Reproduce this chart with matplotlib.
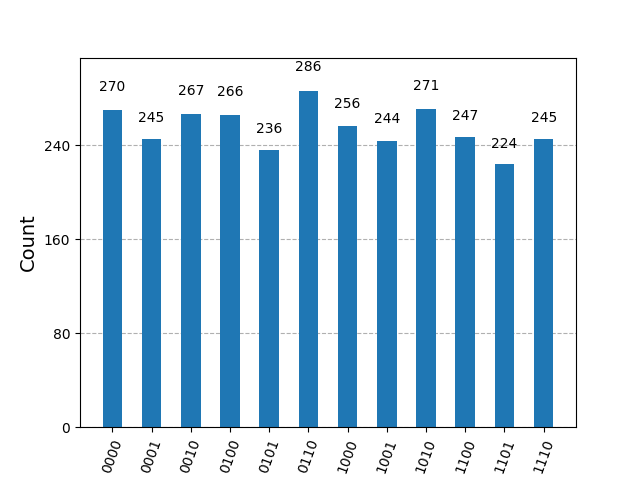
import matplotlib
matplotlib.use('Agg')
import matplotlib.pyplot as plt
from matplotlib.ticker import MaxNLocator

# 측정 결과 (counts)
states = ['0000', '0001', '0010', '0100', '0101', '0110',
          '1000', '1001', '1010', '1100', '1101', '1110']
counts = [270, 245, 267, 266, 236, 286, 256, 244, 271, 247, 224, 245]

fig, ax = plt.subplots(figsize=(6.4, 4.8), dpi=100)
x = range(len(states))
rects = ax.bar(x, counts, width=0.5, color='#1f77b4', zorder=2)

# 막대 위 값 표시
for rect, c in zip(rects, counts):
    h = rect.get_height()
    ax.text(rect.get_x() + rect.get_width() / 2., 1.05 * h, str(c),
            ha='center', va='bottom', zorder=3)

ax.set_xticks(list(x))
ax.set_xticklabels(states, rotation=70, fontsize=10)
ax.yaxis.set_major_locator(MaxNLocator(5, integer=True))
ax.set_ylim(0, max(counts) * 1.1)
ax.grid(which='major', axis='y', zorder=0, linestyle='--')
ax.set_axisbelow(True)
ax.set_ylabel('Count', fontsize=14)

plt.savefig('out.png', dpi=100)
